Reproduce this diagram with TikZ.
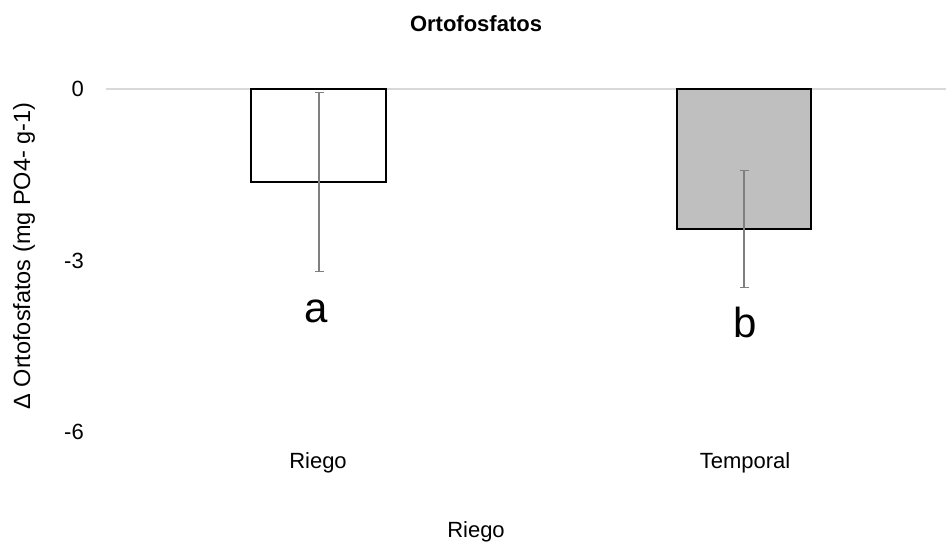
\documentclass[tikz,border=0pt]{standalone}
\usepackage{fontspec}
\setmainfont{Liberation Sans}
\usetikzlibrary{arrows.meta}
\definecolor{gridgray}{HTML}{D9D9D9}
\definecolor{bargray}{HTML}{BFBFBF}
\definecolor{errgray}{HTML}{7F7F7F}

\begin{document}
\begin{tikzpicture}[x=1pt,y=-1pt,
    lbl/.style={font=\fontsize{22}{26}\selectfont, inner sep=0pt},
    letter/.style={font=\fontsize{42}{50}\selectfont, inner sep=0pt, anchor=base},
    bar/.style={draw=black, line width=2.2pt},
    errbar/.style={errgray, line width=1.3pt, {Bar[width=9pt]}-{Bar[width=9pt]}}]
    \useasboundingbox (0,0) rectangle (947,546);
    \fill[white] (0,0) rectangle (947,546);
    % zero line
    \draw[gridgray, line width=1.2pt] (106,89) -- (946,89);
    % bars
    \draw[bar, fill=white] (251,89) rectangle (386,182);
    \draw[bar, fill=bargray] (677,89) rectangle (811,229);
    % error bars
    \coordinate (e1t) at (319,92);
    \coordinate (e1b) at (319,272);
    \coordinate (e2t) at (744,170);
    \coordinate (e2b) at (744,288);
    \draw[errbar] (e1t) -- (e1b);
    \draw[errbar] (e2t) -- (e2b);
    % axis labels
    \node[lbl, anchor=east] (t0) at (84,89) {0};
    \node[lbl, anchor=east] (t3) at (84,261) {-3};
    \node[lbl, anchor=east] (t6) at (84,432) {-6};
    \node[lbl, anchor=base] (riego) at (318,468) {Riego};
    \node[lbl, anchor=base] (temporal) at (745,468) {Temporal};
    \node[letter] (la) at (316,322) {a};
    \node[letter] (lb) at (745,337) {b};
    \node[lbl, font=\bfseries\fontsize{22}{26}\selectfont, anchor=base] (title) at (476,31) {Ortofosfatos};
    \node[lbl, anchor=base] (xtitle) at (476,537) {Riego};
    \node[lbl, font=\fontsize{23.5}{28}\selectfont, rotate=90, anchor=base] (ytitle) at (30,256) {Δ Ortofosfatos (mg PO4- g-1)};
\end{tikzpicture}
\end{document}
